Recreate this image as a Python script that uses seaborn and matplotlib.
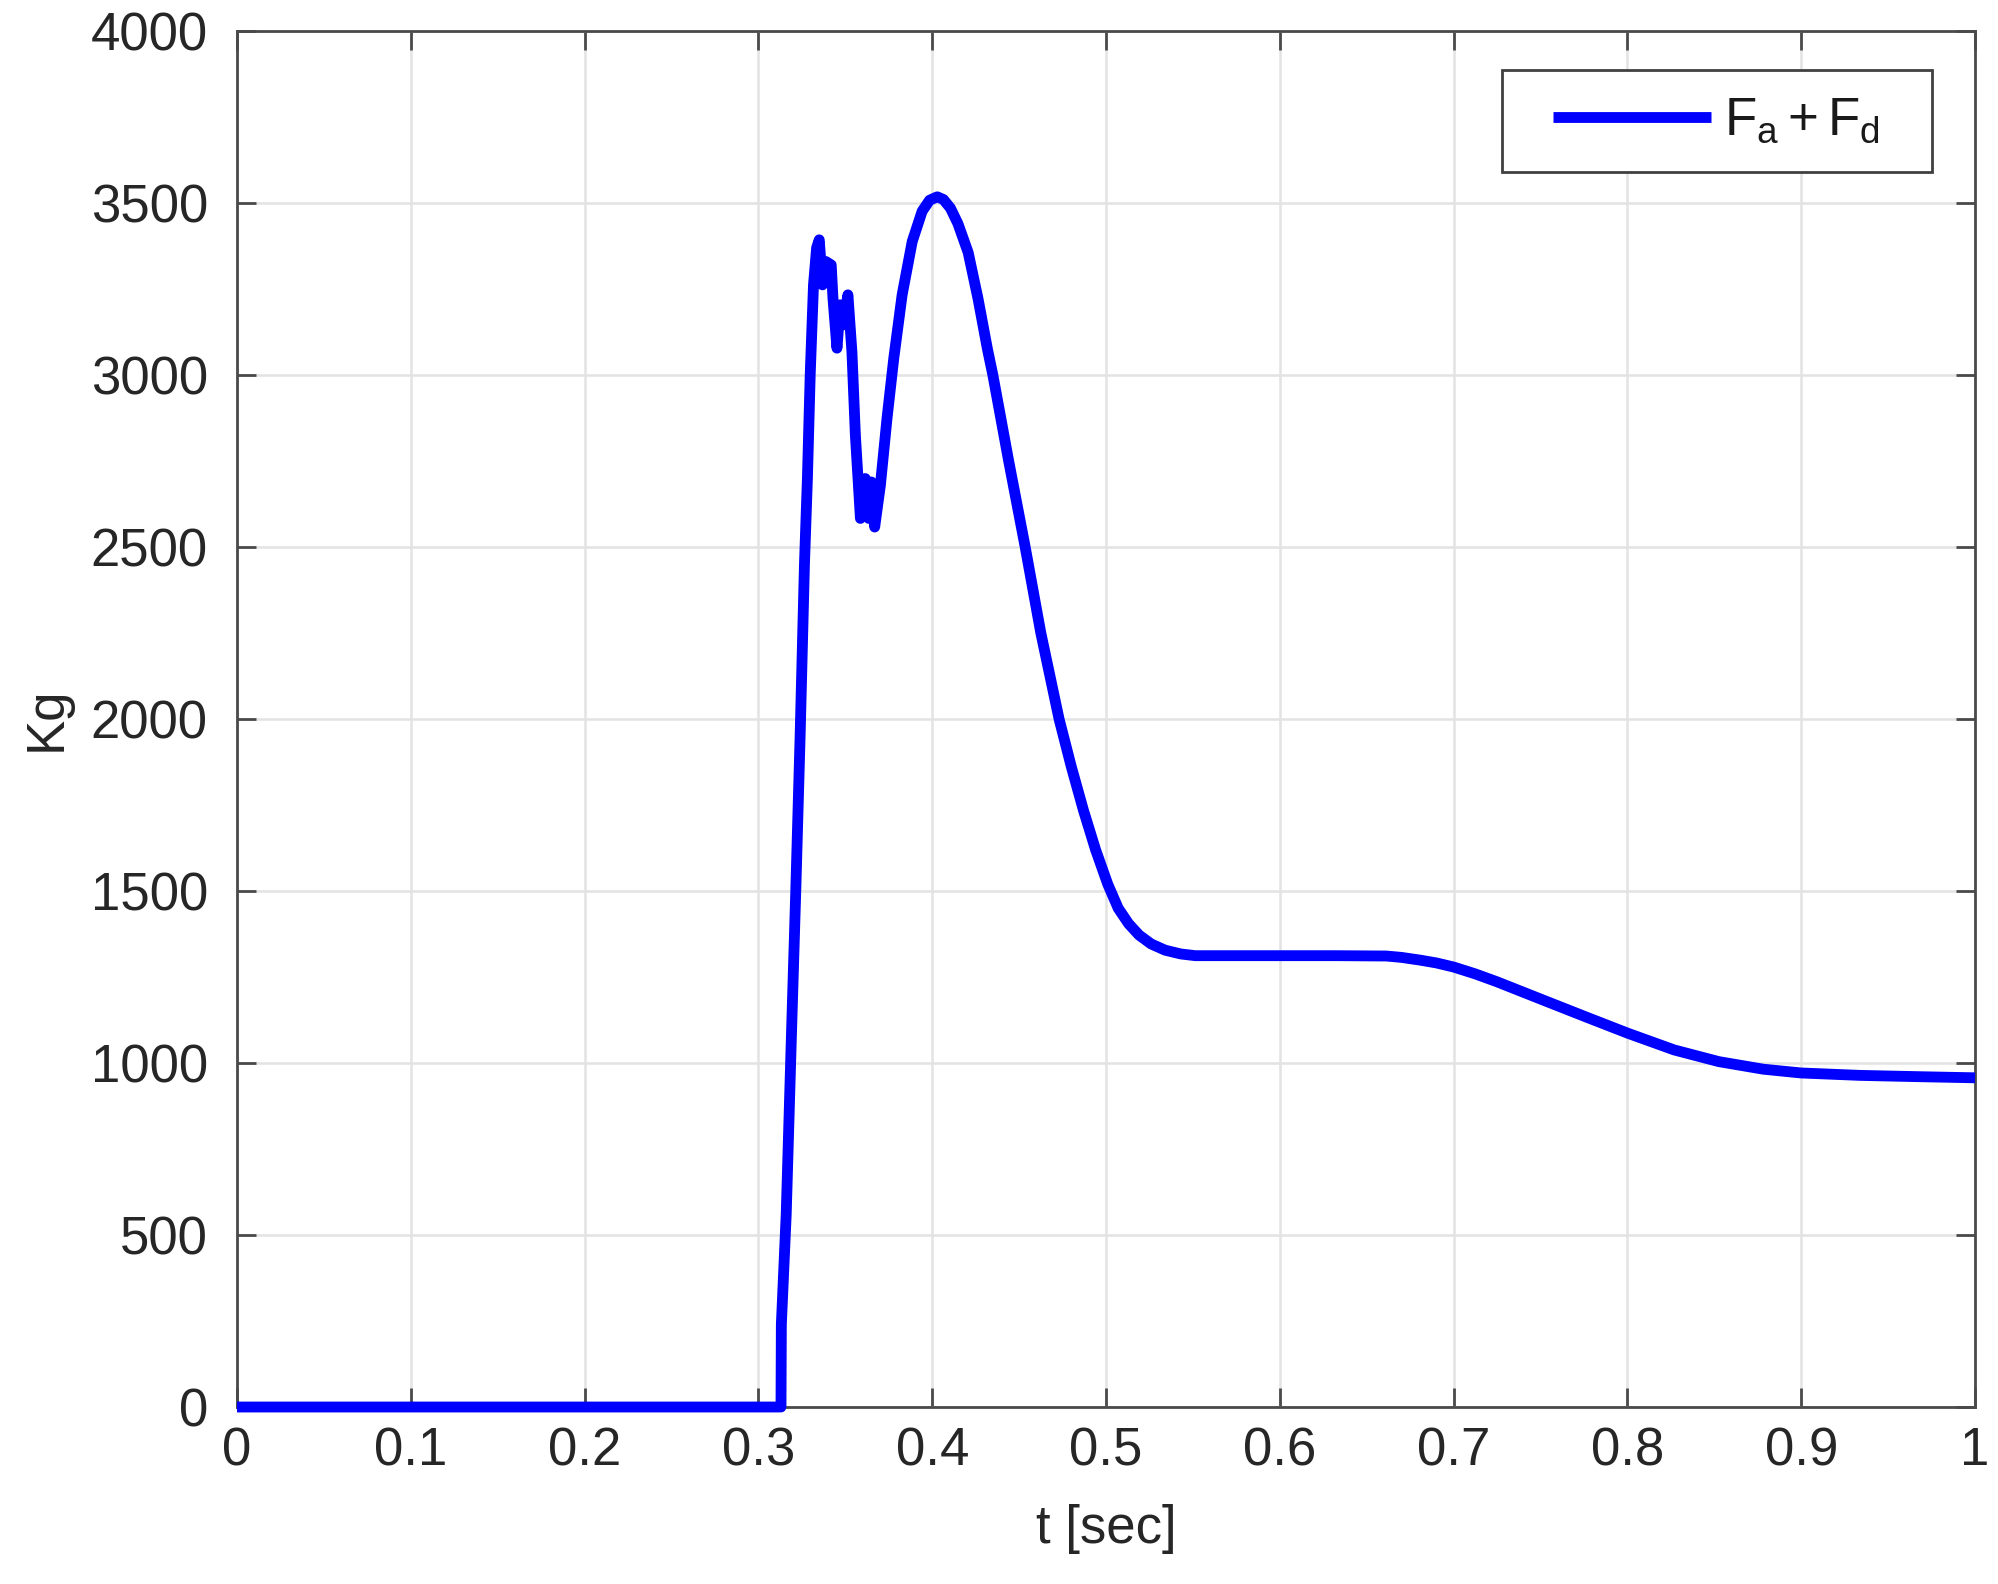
import matplotlib
matplotlib.use("Agg")
import matplotlib.pyplot as plt
import seaborn as sns
import pandas as pd
from matplotlib.legend_handler import HandlerLine2D
from matplotlib.offsetbox import DrawingArea

# ---- data ----
t_sec = [0.0, 0.3130, 0.3132, 0.3160, 0.3190, 0.3215, 0.3240, 0.3265, 0.3282,
         0.3298, 0.3317, 0.3335, 0.3350, 0.3369, 0.3388, 0.3419, 0.3429, 0.3452,
         0.3471, 0.3490, 0.3515, 0.3538, 0.3558, 0.3587, 0.3615, 0.3635, 0.3650,
         0.3669, 0.3702, 0.3740, 0.3779, 0.3827, 0.3885, 0.3942, 0.3985, 0.4029,
         0.4065, 0.4105, 0.4148, 0.4207, 0.4264, 0.4318, 0.4349, 0.4440, 0.4535,
         0.4625, 0.4730, 0.4800, 0.4870, 0.4940, 0.5010, 0.5070, 0.5130, 0.5190,
         0.5260, 0.5340, 0.5430, 0.5514, 0.5746, 0.6000, 0.6324, 0.6613, 0.6700,
         0.6808, 0.6900, 0.7000, 0.7125, 0.7250, 0.7500, 0.7756, 0.8000, 0.8269,
         0.8526, 0.8782, 0.9000, 0.9339, 0.9700, 1.0]
force_kg = [0, 0, 240, 560, 1080, 1500, 1950, 2450, 2700,
            3000, 3262, 3370, 3393, 3262, 3330, 3320, 3223, 3078,
            3204, 3146, 3233, 3068, 2825, 2583, 2699, 2583, 2689,
            2558, 2680, 2874, 3049, 3233, 3388, 3476, 3508, 3518,
            3510, 3485, 3440, 3356, 3221, 3075, 3000, 2750, 2500,
            2250, 2000, 1862, 1735, 1620, 1520, 1450, 1405, 1372,
            1346, 1328, 1317, 1312, 1312, 1312, 1312, 1311, 1307,
            1299, 1291, 1279, 1259, 1236, 1186, 1135, 1087, 1038,
            1004, 982, 971, 964, 960, 957]
series_label = r"$\mathrm{F_a + F_d}$"
x_ticks = [0, 0.1, 0.2, 0.3, 0.4, 0.5, 0.6, 0.7, 0.8, 0.9, 1]
x_tick_labels = ["0", "0.1", "0.2", "0.3", "0.4", "0.5", "0.6", "0.7", "0.8", "0.9", "1"]
y_ticks = [0, 500, 1000, 1500, 2000, 2500, 3000, 3500, 4000]
y_tick_labels = ["0", "500", "1000", "1500", "2000", "2500", "3000", "3500", "4000"]

assert len(t_sec) == len(force_kg)
df = pd.DataFrame({"t": t_sec, "F": force_kg})

sns.set_theme(style="whitegrid")
plt.rcParams["font.family"] = ["Liberation Sans", "DejaVu Sans"]
plt.rcParams["mathtext.fontset"] = "custom"
plt.rcParams["mathtext.rm"] = "Liberation Sans"
plt.rcParams["mathtext.it"] = "Liberation Sans:italic"

fig = plt.figure(figsize=(19.98, 15.84), dpi=100)
fig.patch.set_facecolor("white")
ax = fig.add_axes([0.11862, 0.11174, 0.86987, 0.86869])
ax.set_facecolor("white")

sns.lineplot(data=df, x="t", y="F", ax=ax, estimator=None, sort=False,
             color="#0000ff", linewidth=7.8, label=series_label,
             solid_joinstyle="round", solid_capstyle="butt")
for ln in ax.lines:
    ln.set_clip_on(False)
    ln.set_zorder(5)

ax.set_xlim(0, 1)
ax.set_ylim(0, 4000)
ax.set_xticks(x_ticks)
ax.set_xticklabels(x_tick_labels)
ax.set_yticks(y_ticks)
ax.set_yticklabels(y_tick_labels)

ax.grid(True, color="#e3e3e3", linewidth=1.8)
ax.set_axisbelow(True)
for sp in ax.spines.values():
    sp.set_visible(True)
    sp.set_color("#4a4a4a")
    sp.set_linewidth(2.0)
    sp.set_zorder(4)

ax.tick_params(axis="both", which="major", direction="in", length=13.5, width=2.0,
               color="#4a4a4a", labelsize=38, labelcolor="#262626",
               top=True, right=True, bottom=True, left=True)
ax.tick_params(axis="x", pad=14)
ax.tick_params(axis="y", pad=21)

ax.set_xlabel("t [sec]", fontsize=38, color="#262626", labelpad=20)
ax.set_ylabel("Kg", fontsize=38, color="#262626", labelpad=14)

leg = ax.legend(loc="upper right", bbox_to_anchor=(0.9753, 0.9719),
                borderaxespad=0, fontsize=38, frameon=True, fancybox=False,
                borderpad=0.5, handlelength=3.46, handletextpad=0.24,
                handler_map={ax.lines[0]: HandlerLine2D(xpad=0.47)})
# extra blank space after the label text (right padding inside the box)
try:
    item = leg._legend_handle_box.get_children()[0].get_children()[0]
    item.get_children().append(DrawingArea(9.7, 1))
except Exception:
    pass
frame = leg.get_frame()
frame.set_edgecolor("#404040")
frame.set_linewidth(2.0)
frame.set_facecolor("white")
frame.set_alpha(1)
for h in leg.get_lines():
    h.set_linewidth(7.8)
for txt in leg.get_texts():
    txt.set_color("#1a1a1a")

fig.savefig("out.png", dpi=100, facecolor="white")
